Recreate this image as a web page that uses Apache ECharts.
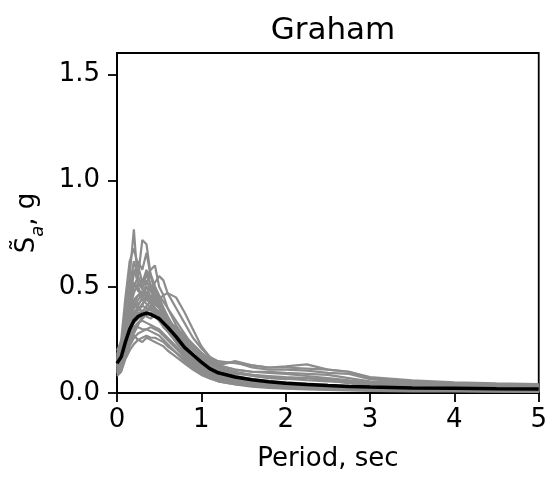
<!DOCTYPE html>
<html>
<head>
<meta charset="utf-8">
<script src="https://cdn.jsdelivr.net/npm/echarts@6/dist/echarts.min.js"></script>
<style>html,body{margin:0;padding:0;background:#fff;}#c{width:550px;height:477px;}</style>
</head>
<body>
<div id="c"></div>
<script>
const titleText = "Graham";
const xName = "Period, sec";
const periods = [0,0.05,0.1,0.15,0.2,0.25,0.3,0.35,0.4,0.45,0.5,0.55,0.6,0.7,0.8,0.9,1.0,1.1,1.2,1.4,1.6,1.8,2.0,2.25,2.5,2.75,3.0,3.5,4.0,4.5,5.0];
const xTicks = [0,1,2,3,4,5];
const yTicks = [0,0.5,1.0,1.5];

const g1 = [0.15,0.22,0.40,0.55,0.77,0.50,0.45,0.48,0.42,0.40,0.38,0.33,0.30,0.25,0.20,0.16,0.13,0.10,0.085,0.065,0.05,0.042,0.036,0.03,0.026,0.023,0.02,0.017,0.015,0.013,0.012];
const g2 = [0.12,0.18,0.30,0.42,0.50,0.55,0.72,0.70,0.55,0.50,0.45,0.40,0.36,0.29,0.23,0.18,0.14,0.11,0.09,0.07,0.055,0.045,0.04,0.034,0.03,0.026,0.022,0.019,0.017,0.015,0.013];
const g3 = [0.18,0.25,0.45,0.62,0.68,0.60,0.52,0.58,0.50,0.45,0.42,0.38,0.33,0.27,0.21,0.17,0.13,0.1,0.08,0.062,0.05,0.043,0.038,0.032,0.028,0.025,0.022,0.019,0.017,0.015,0.014];
const g4 = [0.14,0.2,0.32,0.42,0.48,0.5,0.52,0.55,0.58,0.6,0.5,0.46,0.40,0.32,0.26,0.21,0.17,0.14,0.12,0.095,0.08,0.07,0.065,0.07,0.06,0.045,0.035,0.028,0.024,0.022,0.02];
const g5 = [0.16,0.2,0.28,0.36,0.40,0.44,0.46,0.50,0.48,0.52,0.55,0.53,0.47,0.40,0.33,0.26,0.21,0.17,0.15,0.14,0.13,0.12,0.125,0.135,0.11,0.1,0.07,0.055,0.045,0.04,0.038];
const g6 = [0.1,0.13,0.2,0.26,0.3,0.33,0.35,0.38,0.40,0.42,0.44,0.46,0.47,0.45,0.38,0.3,0.22,0.17,0.14,0.145,0.12,0.11,0.11,0.105,0.095,0.09,0.065,0.05,0.04,0.035,0.032];
const g7 = [0.13,0.17,0.27,0.35,0.42,0.46,0.45,0.44,0.46,0.43,0.40,0.36,0.33,0.28,0.24,0.2,0.17,0.15,0.13,0.11,0.1,0.095,0.09,0.08,0.07,0.06,0.05,0.04,0.035,0.03,0.028];
const g8 = [0.09,0.11,0.17,0.22,0.26,0.28,0.29,0.30,0.29,0.28,0.27,0.25,0.23,0.19,0.15,0.12,0.09,0.07,0.055,0.04,0.03,0.024,0.02,0.017,0.014,0.012,0.01,0.008,0.007,0.006,0.005];
const g9 = [0.11,0.14,0.2,0.24,0.27,0.25,0.24,0.26,0.25,0.24,0.23,0.22,0.2,0.17,0.14,0.11,0.085,0.068,0.055,0.042,0.034,0.028,0.024,0.02,0.017,0.015,0.013,0.011,0.01,0.009,0.008];
const g10 = [0.15,0.19,0.28,0.34,0.38,0.40,0.41,0.40,0.39,0.38,0.36,0.34,0.31,0.26,0.21,0.16,0.12,0.095,0.078,0.058,0.046,0.038,0.032,0.027,0.023,0.02,0.018,0.015,0.013,0.012,0.011];
const g11 = [0.12,0.16,0.26,0.33,0.36,0.38,0.35,0.37,0.38,0.36,0.34,0.31,0.29,0.24,0.19,0.15,0.115,0.09,0.07,0.052,0.042,0.035,0.03,0.025,0.022,0.019,0.017,0.014,0.012,0.011,0.01];
const g12 = [0.2,0.24,0.34,0.45,0.52,0.48,0.46,0.50,0.45,0.42,0.40,0.37,0.34,0.28,0.22,0.17,0.13,0.1,0.08,0.06,0.048,0.04,0.034,0.029,0.025,0.022,0.02,0.017,0.015,0.014,0.013];
const g13 = [0.1,0.13,0.22,0.28,0.31,0.33,0.34,0.33,0.32,0.31,0.30,0.28,0.26,0.22,0.18,0.14,0.11,0.085,0.068,0.05,0.04,0.033,0.028,0.024,0.021,0.018,0.016,0.013,0.012,0.011,0.01];
const g14 = [0.14,0.18,0.3,0.38,0.44,0.46,0.48,0.45,0.44,0.42,0.40,0.38,0.35,0.30,0.25,0.2,0.16,0.13,0.11,0.09,0.085,0.08,0.075,0.07,0.065,0.055,0.045,0.04,0.035,0.03,0.028];
const g15 = [0.17,0.21,0.3,0.36,0.40,0.42,0.44,0.42,0.40,0.37,0.35,0.32,0.29,0.24,0.19,0.15,0.115,0.09,0.072,0.055,0.045,0.038,0.033,0.028,0.024,0.021,0.019,0.016,0.014,0.013,0.012];
const g16 = [0.08,0.1,0.16,0.2,0.23,0.25,0.26,0.27,0.26,0.26,0.25,0.24,0.22,0.19,0.16,0.13,0.1,0.08,0.065,0.048,0.038,0.031,0.026,0.022,0.019,0.016,0.014,0.012,0.01,0.009,0.008];
const g17 = [0.13,0.17,0.28,0.40,0.47,0.52,0.49,0.47,0.44,0.40,0.37,0.33,0.30,0.24,0.19,0.14,0.11,0.085,0.068,0.05,0.04,0.034,0.029,0.025,0.022,0.019,0.017,0.014,0.013,0.012,0.011];
const g18 = [0.12,0.15,0.24,0.31,0.36,0.39,0.42,0.44,0.42,0.40,0.38,0.36,0.34,0.31,0.27,0.23,0.19,0.16,0.13,0.11,0.1,0.1,0.095,0.09,0.085,0.07,0.055,0.045,0.038,0.034,0.03];
const g19 = [0.16,0.2,0.3,0.37,0.42,0.40,0.38,0.41,0.43,0.40,0.37,0.34,0.31,0.26,0.2,0.16,0.12,0.095,0.077,0.058,0.046,0.038,0.033,0.028,0.024,0.021,0.019,0.016,0.014,0.013,0.012];
const g20 = [0.11,0.14,0.22,0.27,0.30,0.31,0.30,0.30,0.31,0.30,0.29,0.27,0.25,0.21,0.17,0.13,0.1,0.078,0.062,0.046,0.037,0.03,0.026,0.022,0.019,0.017,0.015,0.013,0.011,0.01,0.009];
const g21 = [0.14,0.19,0.32,0.50,0.62,0.55,0.50,0.53,0.48,0.44,0.41,0.37,0.33,0.27,0.22,0.17,0.13,0.1,0.082,0.062,0.05,0.042,0.036,0.031,0.027,0.024,0.021,0.018,0.016,0.014,0.013];
const g22 = [0.13,0.16,0.25,0.32,0.37,0.41,0.45,0.52,0.56,0.50,0.46,0.43,0.40,0.34,0.28,0.22,0.17,0.14,0.13,0.15,0.13,0.12,0.12,0.115,0.11,0.1,0.075,0.06,0.05,0.045,0.042];
const g23 = [0.09,0.12,0.19,0.24,0.28,0.32,0.36,0.38,0.37,0.36,0.35,0.33,0.31,0.27,0.22,0.17,0.13,0.1,0.08,0.06,0.048,0.04,0.035,0.03,0.027,0.024,0.021,0.018,0.016,0.014,0.013];
const g24 = [0.15,0.2,0.33,0.44,0.56,0.62,0.58,0.66,0.55,0.48,0.44,0.40,0.36,0.29,0.23,0.18,0.14,0.11,0.09,0.068,0.055,0.046,0.04,0.035,0.031,0.028,0.025,0.021,0.018,0.016,0.015];
const g25 = [0.12,0.16,0.27,0.36,0.43,0.39,0.41,0.47,0.43,0.46,0.41,0.38,0.35,0.29,0.23,0.18,0.14,0.11,0.09,0.07,0.056,0.047,0.04,0.034,0.03,0.026,0.023,0.02,0.018,0.016,0.015];
const g26 = [0.1,0.13,0.21,0.29,0.34,0.37,0.39,0.36,0.35,0.37,0.34,0.32,0.30,0.25,0.21,0.17,0.14,0.12,0.1,0.08,0.066,0.056,0.05,0.044,0.038,0.033,0.028,0.023,0.02,0.018,0.017];
const g27 = [0.17,0.22,0.35,0.47,0.58,0.52,0.49,0.56,0.51,0.47,0.43,0.39,0.35,0.28,0.22,0.17,0.13,0.1,0.08,0.061,0.049,0.041,0.035,0.03,0.026,0.023,0.02,0.017,0.015,0.014,0.013];
const g28 = [0.11,0.15,0.24,0.3,0.33,0.35,0.37,0.39,0.41,0.39,0.37,0.35,0.33,0.3,0.26,0.22,0.18,0.15,0.12,0.1,0.085,0.075,0.068,0.06,0.055,0.05,0.042,0.035,0.03,0.027,0.025];
const meanSa = [0.14,0.17,0.24,0.30,0.34,0.36,0.37,0.375,0.37,0.36,0.35,0.33,0.31,0.265,0.215,0.18,0.145,0.115,0.095,0.075,0.062,0.053,0.046,0.04,0.035,0.031,0.028,0.024,0.022,0.02,0.019];

const grayRecords = [g1,g2,g3,g4,g5,g6,g7,g8,g9,g10,g11,g12,g13,g14,g15,g16,g17,g18,g19,g20,g21,g22,g23,g24,g25,g26,g27,g28];

const FONT = "DejaVu Sans";
const toPairs = v => periods.map((t, i) => [t, v[i]]);

const series = grayRecords.map(v => ({
  type: 'line', data: toPairs(v), showSymbol: false, symbol: 'none',
  lineStyle: { color: '#8c8c8c', width: 2.2 }, silent: true, z: 2
}));
series.push({
  type: 'line', data: toPairs(meanSa), showSymbol: false, symbol: 'none',
  lineStyle: { color: '#000', width: 3.5 }, silent: true, z: 3
});

const chart = echarts.init(document.getElementById('c'), null, { renderer: 'canvas' });
chart.setOption({
  animation: false,
  backgroundColor: '#fff',
  title: {
    text: titleText, left: 328, top: 10, textAlign: 'center',
    textStyle: { fontFamily: FONT, fontSize: 31, fontWeight: 'normal', color: '#000' }
  },
  grid: { left: 117, right: 11, top: 53, bottom: 83, show: true, borderColor: '#000', borderWidth: 1.8, containLabel: false },
  xAxis: {
    type: 'value', min: 0, max: 5, interval: 1,
    name: xName, nameLocation: 'middle', nameGap: 53,
    nameTextStyle: { fontFamily: FONT, fontSize: 26, color: '#000' },
    axisLine: { show: true, onZero: false, lineStyle: { color: '#000', width: 1.8 } },
    axisTick: { show: true, inside: false, length: 9, lineStyle: { color: '#000', width: 1.8 } },
    axisLabel: { fontFamily: FONT, fontSize: 26, color: '#000', margin: 14, formatter: v => String(v) },
    splitLine: { show: false }
  },
  yAxis: {
    type: 'value', min: 0, max: 1.6, interval: 0.5,
    name: '{s|S\u0303}{sub|a}{s|, g}', nameLocation: 'middle', nameRotate: 90, nameGap: 62,
    nameTextStyle: {
      fontFamily: FONT, fontSize: 26, color: '#000',
      rich: {
        s: { fontFamily: FONT, fontSize: 26, color: '#000', lineHeight: 34, verticalAlign: 'top' },
        sub: { fontFamily: FONT, fontSize: 18, fontStyle: 'italic', color: '#000', lineHeight: 34, verticalAlign: 'bottom' }
      }
    },
    axisLine: { show: true, onZero: false, lineStyle: { color: '#000', width: 1.8 } },
    axisTick: { show: true, inside: false, length: 9, customValues: yTicks, lineStyle: { color: '#000', width: 1.8 } },
    axisLabel: { fontFamily: FONT, fontSize: 26, color: '#000', margin: 17, customValues: yTicks, formatter: v => Number(v).toFixed(1) },
    splitLine: { show: false }
  },
  series: series
});
</script>
</body>
</html>
